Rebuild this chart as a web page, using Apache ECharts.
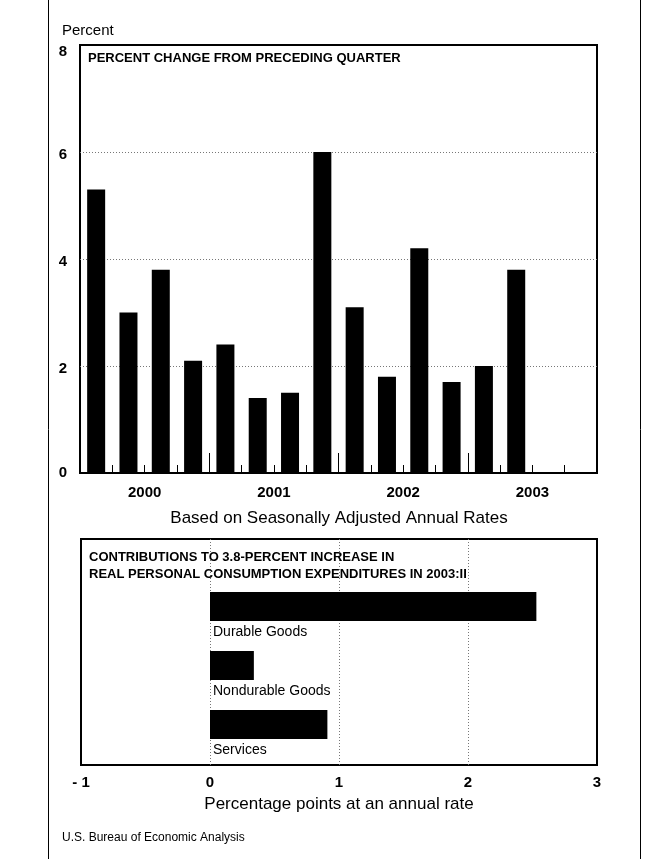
<!DOCTYPE html>
<html>
<head>
<meta charset="utf-8">
<script src="https://cdn.jsdelivr.net/npm/echarts@6/dist/echarts.min.js"></script>
<style>html,body{margin:0;padding:0;background:#fff}#c{width:657px;height:859px}</style>
</head>
<body>
<div id="c"></div>
<script>
// ---- data ----
var quarters = ['2000:I','2000:II','2000:III','2000:IV','2001:I','2001:II','2001:III','2001:IV',
                '2002:I','2002:II','2002:III','2002:IV','2003:I','2003:II','2003:III','2003:IV'];
var pceGrowth = [5.3, 3.0, 3.8, 2.1, 2.4, 1.4, 1.5, 6.0, 3.1, 1.8, 4.2, 1.7, 2.0, 3.8];
var years = ['2000', '2001', '2002', '2003'];
var yTicks = [0, 2, 4, 6, 8];
var components = ['Durable Goods', 'Nondurable Goods', 'Services'];
var contributions = [2.53, 0.34, 0.91];
var xTickLabels = ['- 1', '0', '1', '2', '3'];

var FONT = '"Liberation Sans", Arial, Helvetica, sans-serif';
var NARROW = '"Liberation Sans Narrow", "Arial Narrow", "Liberation Sans", sans-serif';
var dotted = { show: true, showMinLine: false, showMaxLine: false, lineStyle: { color: '#777', type: [1, 2], width: 1 } };
var yLabelStyle = { fontFamily: FONT, fontSize: 15, fontWeight: 'bold', color: '#000' };

var chart = echarts.init(document.getElementById('c'), null, { renderer: 'canvas' });
chart.setOption({
  backgroundColor: '#fff',
  animation: false,
  graphic: [
    { type: 'rect', silent: true, z: 0, shape: { x: 48.5, y: -5, width: 592, height: 870 },
      style: { fill: 'none', stroke: '#000', lineWidth: 1 } }
  ],
  title: [
    { text: 'Percent', left: 62, top: 23, padding: 0, textStyle: { fontFamily: FONT, fontSize: 15, fontWeight: 'normal', color: '#000' } },
    { text: 'PERCENT CHANGE FROM PRECEDING QUARTER', left: 88, top: 52, padding: 0, textStyle: { fontFamily: NARROW, fontSize: 13, fontWeight: 'bold', color: '#000' } },
    { text: 'Based on Seasonally Adjusted Annual Rates', left: 339, textAlign: 'center', top: 510, padding: 0, textStyle: { fontFamily: FONT, fontSize: 17, fontWeight: 'normal', color: '#000' } },
    { text: 'CONTRIBUTIONS TO 3.8-PERCENT INCREASE IN\nREAL PERSONAL CONSUMPTION EXPENDITURES IN 2003:II', left: 89, top: 549, padding: 0,
      textStyle: { fontFamily: NARROW, fontSize: 13, fontWeight: 'bold', color: '#000', lineHeight: 17 } },
    { text: 'U.S. Bureau of Economic Analysis', left: 62, top: 832, padding: 0, textStyle: { fontFamily: NARROW, fontSize: 12, fontWeight: 'normal', color: '#000' } }
  ],
  grid: [
    { left: 80, right: 60, top: 45, height: 428, show: true, borderColor: '#000', borderWidth: 2, backgroundColor: 'transparent' },
    { left: 81, right: 60, top: 539, height: 226, show: true, borderColor: '#000', borderWidth: 2, backgroundColor: 'transparent' },
    { left: 81, right: 60, top: 577, height: 177 }
  ],
  xAxis: [
    { gridIndex: 0, type: 'category', position: 'bottom', data: quarters, boundaryGap: true,
      axisLine: { show: true, lineStyle: { color: '#000', width: 2 } },
      axisTick: { show: true, inside: true, length: 8, interval: 0, lineStyle: { color: '#000', width: 1 } },
      axisLabel: { show: false }, splitLine: { show: false } },
    { gridIndex: 0, type: 'value', position: 'bottom', offset: 0, min: 0, max: quarters.length, interval: 4,
      axisLine: { show: false },
      axisTick: { show: true, inside: true, length: 20, lineStyle: { color: '#000', width: 1 } },
      axisLabel: { show: false }, splitLine: { show: false } },
    { gridIndex: 0, type: 'value', position: 'bottom', offset: 0, min: 0, max: quarters.length, interval: 2,
      axisLine: { show: false }, axisTick: { show: false }, splitLine: { show: false },
      axisLabel: { show: true, margin: 12, fontFamily: FONT, fontSize: 15, fontWeight: 'bold', color: '#000',
        showMinLabel: true, showMaxLabel: true,
        formatter: function (v) { return (v % 4 === 2) ? years[(v - 2) / 4] : ''; } } },
    { gridIndex: 1, type: 'value', position: 'bottom', min: -1, max: 3, interval: 1,
      axisLine: { show: false }, axisTick: { show: false },
      splitLine: dotted,
      axisLabel: { show: true, margin: 10, fontFamily: FONT, fontSize: 15, fontWeight: 'bold', color: '#000',
        formatter: function (v) { return xTickLabels[Math.round(v) + 1]; } },
      name: 'Percentage points at an annual rate', nameLocation: 'middle', nameGap: 31,
      nameTextStyle: { fontFamily: FONT, fontSize: 17, color: '#000' } },
    { gridIndex: 2, type: 'value', position: 'bottom', min: -1, max: 3, interval: 1, show: false }
  ],
  yAxis: [
    { gridIndex: 0, type: 'value', min: 0, max: 8, interval: 2,
      axisLine: { show: false }, axisTick: { show: false },
      splitLine: dotted,
      axisLabel: { show: true, margin: 13, color: '#000',
        formatter: function (v) {
          var t = String(yTicks[yTicks.indexOf(v)]);
          return v === 8 ? '{top|' + t + '}' : (v === 0 ? '{zero|' + t + '}' : '{mid|' + t + '}');
        },
        rich: {
          top: Object.assign({ padding: [14, 0, 0, 0] }, yLabelStyle),
          mid: Object.assign({ padding: [6, 0, 0, 0] }, yLabelStyle),
          zero: Object.assign({}, yLabelStyle)
        } } },
    { gridIndex: 1, type: 'value', min: 0, max: 1, show: false },
    { gridIndex: 2, type: 'category', data: components, inverse: true, show: false }
  ],
  series: [
    { type: 'bar', xAxisIndex: 0, yAxisIndex: 0, data: pceGrowth, barWidth: 18,
      itemStyle: { color: '#000' }, z: 3 },
    { type: 'bar', xAxisIndex: 4, yAxisIndex: 2, data: contributions, barWidth: 29,
      itemStyle: { color: '#000' }, z: 3,
      label: { show: true, formatter: '{b}', position: ['0%', '100%'], align: 'left', verticalAlign: 'top',
        padding: [4, 0, 0, 3], fontFamily: FONT, fontSize: 14, color: '#000' } }
  ]
});
</script>
</body>
</html>
